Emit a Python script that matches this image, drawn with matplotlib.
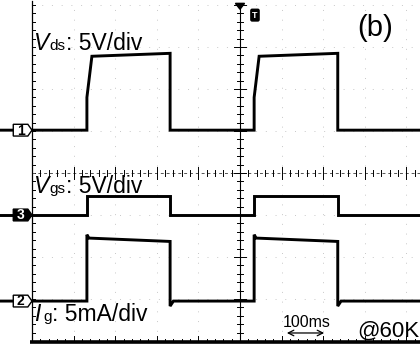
import matplotlib
matplotlib.use("Agg")
import matplotlib.pyplot as plt
from matplotlib.patches import Polygon

plt.rcParams['font.family'] = ['Liberation Sans', 'DejaVu Sans']

# Timebase: 100 ms per division, edges of the two pulses (ms)
MS_PER_DIV = 100
RISE_T = [132, 534]
FALL_T = [332, 735]

# Channel position on screen (div from centre) and vertical scales
CH1_OFFSET = 1.02    # Vds
CH3_OFFSET = -1.0    # Vgs
CH2_OFFSET = -3.05   # Ig
VDS_SCALE = 5.0      # V/div
VGS_SCALE = 5.0      # V/div
IG_SCALE = 5.0       # mA/div

# Vds levels (V)
VDS_LOW = 0.0
VDS_KNEE = 3.9
VDS_HIGH_START = 8.8
VDS_HIGH_END = 9.15
VDS_RAMP_MS = 12

# Vgs levels (V)
VGS_LOW = 0.0
VGS_HIGH = 2.3

# Ig levels (mA)
IG_LOW = 0.0
IG_SPIKE = 7.9
IG_HIGH_START = 7.5
IG_HIGH_END = 7.1
IG_UNDERSHOOT = -0.6

T_START, T_END = -80, 940


def vds_trace():
    t, v = [T_START], [VDS_LOW]
    for r, f in zip(RISE_T, FALL_T):
        t += [r, r, r + VDS_RAMP_MS, f, f]
        v += [VDS_LOW, VDS_KNEE, VDS_HIGH_START, VDS_HIGH_END, VDS_LOW]
    t.append(T_END)
    v.append(VDS_LOW)
    return t, [CH1_OFFSET + x / VDS_SCALE for x in v]


def vgs_trace():
    t, v = [T_START], [VGS_LOW]
    for r, f in zip(RISE_T, FALL_T):
        t += [r, r, f, f]
        v += [VGS_LOW, VGS_HIGH, VGS_HIGH, VGS_LOW]
    t.append(T_END)
    v.append(VGS_LOW)
    return t, [CH3_OFFSET + x / VGS_SCALE for x in v]


def ig_trace():
    t, v = [T_START], [IG_LOW]
    for r, f in zip(RISE_T, FALL_T):
        t += [r, r, r + 5, f, f, f + 8]
        v += [IG_LOW, IG_SPIKE, IG_HIGH_START, IG_HIGH_END, IG_UNDERSHOOT, IG_LOW]
    t.append(T_END)
    v.append(IG_LOW)
    return t, [CH2_OFFSET + x / IG_SCALE for x in v]


fig = plt.figure(figsize=(4.2, 3.46), dpi=100)
ax = fig.add_axes([0, 0, 1, 1])
ax.set_xlim(-76.9, 932.7)
ax.set_ylim(-4.12, 4.12)
ax.axis('off')

# Graticule: very faint dotted grid
for k in range(1, 10):
    if k != 5:
        ax.plot([k * MS_PER_DIV] * 2, [-4, 4], color='#c8c8c8', lw=0.7,
                ls=(0, (1, 9)))
for j in range(-3, 5):
    if j != 0:
        ax.plot([0, 940], [j, j], color='#c8c8c8', lw=0.7, ls=(0, (1, 9)))

# Left border with ticks
ax.plot([0, 0], [-4, 4.1], color='black', lw=0.9)
for i in range(-20, 21):
    y = i * 0.2
    ax.plot([0, 7], [y, y], color='black', lw=0.7)

# Centre cross with ticks
ax.plot([500, 500], [-4, 4], color='black', lw=0.8)
ax.plot([0, 940], [0, 0], color='#555555', lw=0.7, ls=(0, (3, 3)))
for i in range(-20, 21):
    y = i * 0.2
    w = 14 if i % 5 == 0 else 7
    ax.plot([500 - w, 500 + w], [y, y], color='black', lw=0.7)
for i in range(0, 48):
    x = i * 20
    h = 0.14 if i % 5 == 0 else 0.07
    ax.plot([x, x], [-h, h], color='black', lw=0.7)

# Bottom border with ticks
ax.plot([-5, 940], [-4.03, -4.03], color='black', lw=2.6, solid_capstyle='butt')
for i in range(0, 48):
    x = i * 20
    h = 0.14 if i % 5 == 0 else 0.07
    ax.plot([x, x], [-4.03, -4.03 + h], color='black', lw=0.7)

# Traces
for tr in (vds_trace, vgs_trace, ig_trace):
    t, y = tr()
    ax.plot(t, y, color='black', lw=2.1, solid_joinstyle='miter')

# Channel markers
for label, off, filled in (('1', CH1_OFFSET, False), ('3', CH3_OFFSET, True),
                           ('2', CH2_OFFSET, False)):
    h = 0.14
    pts = [(-45, off - h), (-10, off - h), (0, off), (-10, off + h), (-45, off + h)]
    ax.add_patch(Polygon(pts, closed=True, facecolor='black' if filled else 'white',
                         edgecolor='black', lw=1.0, zorder=5))
    ax.text(-27, off - 0.01, label, ha='center', va='center', fontsize=10,
            fontweight='bold', color='white' if filled else 'black', zorder=6)

# Trigger marker
ax.add_patch(Polygon([(489, 4.04), (511, 4.04), (500, 3.9)], closed=True,
                     facecolor='black', edgecolor='black', zorder=5))
ax.text(536, 3.76, 'T', ha='center', va='center', fontsize=6.5, fontweight='bold',
        color='white', bbox=dict(boxstyle='round,pad=0.15', fc='black', ec='black'))

# Channel labels
FS = 16.5
ax.text(2, 2.93, 'V', fontsize=FS, style='italic', va='baseline')
ax.text(42, 2.93, 'ds', fontsize=11, va='baseline')
ax.text(81, 2.93, ': 5V/div', fontsize=FS, va='baseline', ha='left')
ax.text(2, -0.48, 'V', fontsize=FS, style='italic', va='baseline')
ax.text(42, -0.48, 'gs', fontsize=11, va='baseline')
ax.text(81, -0.48, ': 5V/div', fontsize=FS, va='baseline', ha='left')
ax.text(4, -3.52, 'I', fontsize=FS, style='italic', va='baseline')
ax.text(27, -3.52, 'g', fontsize=11, va='baseline')
ax.text(48, -3.52, ': 5mA/div', fontsize=FS, va='baseline', ha='left')

# Scale bar and annotations
ax.text(603, -3.67, '100ms', fontsize=11.5, va='baseline')
ax.annotate('', xy=(606, -3.81), xytext=(709, -3.81),
            arrowprops=dict(arrowstyle='<->', lw=0.9, color='black'))
ax.text(781, -3.9, '@60K', fontsize=16, va='baseline')
ax.text(825, 3.45, '(b)', fontsize=21, ha='center', va='center')

fig.savefig('out.png', dpi=100)
